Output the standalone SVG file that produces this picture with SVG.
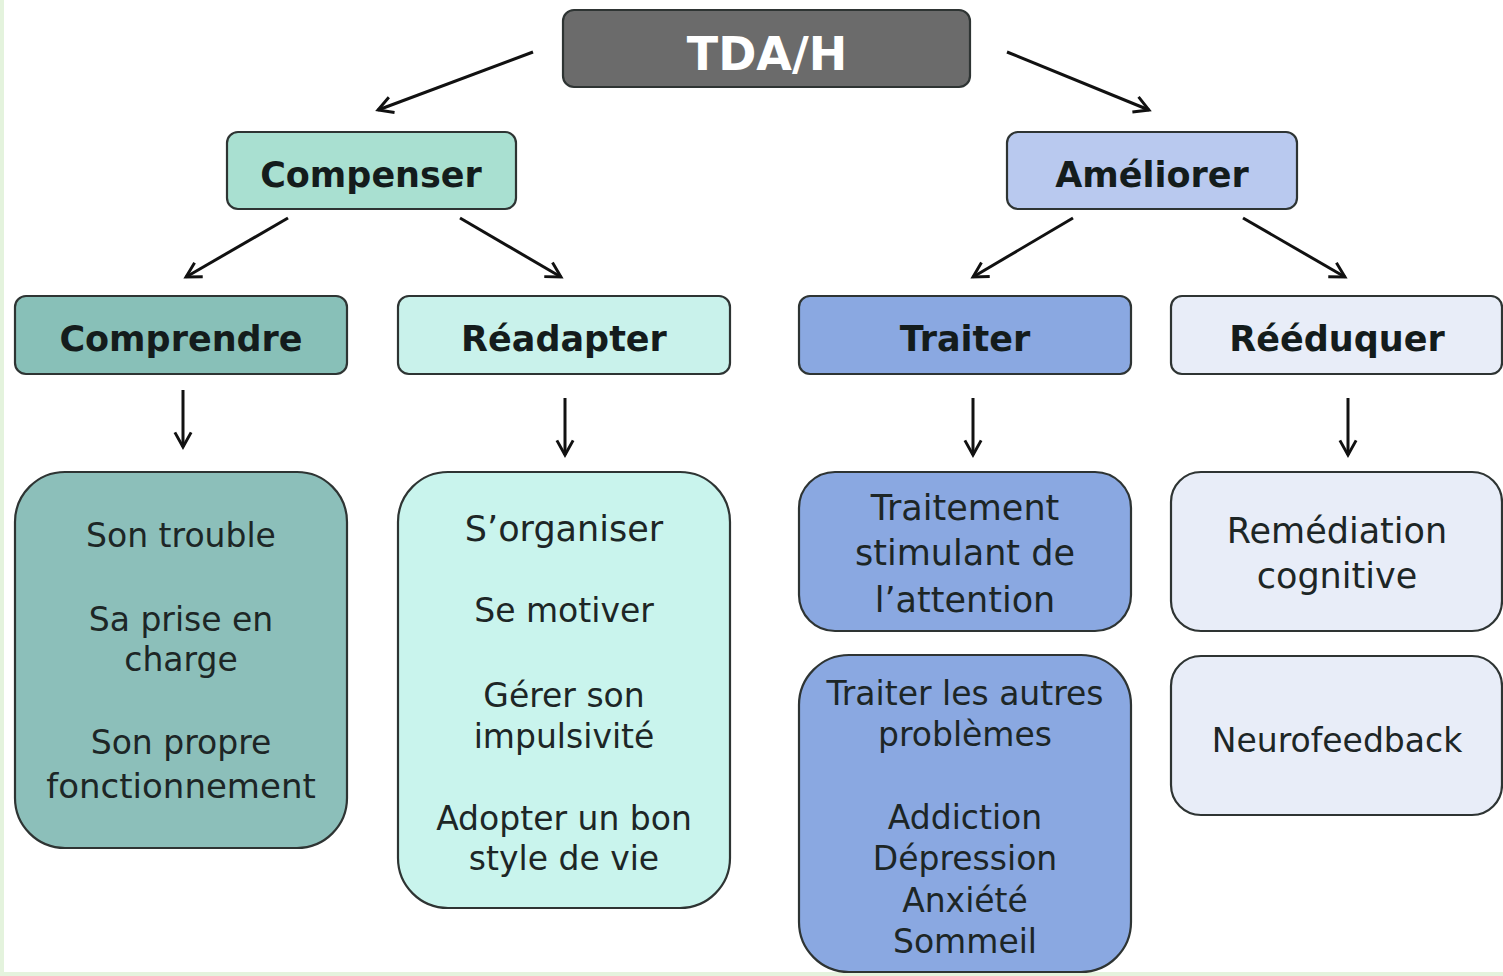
<svg xmlns="http://www.w3.org/2000/svg" width="1503" height="976" viewBox="0 0 1503 976">
<style>
.box{stroke:#2e3433;stroke-width:2.2}
.h{font-family:"DejaVu Sans","Liberation Sans",sans-serif;font-weight:bold;font-size:35px;fill:#141c1c;text-anchor:middle}
.t{font-family:"DejaVu Sans","Liberation Sans",sans-serif;font-size:33px;fill:#1d2626;text-anchor:middle}
.c{stroke:#111;stroke-width:3;fill:none;marker-end:url(#ah)}
</style>
<defs>
<marker id="ah" viewBox="0 0 12 12" refX="10" refY="6" markerWidth="6.5" markerHeight="6.5" orient="auto" markerUnits="strokeWidth">
<path d="M1,1 L10,6 L1,11" fill="none" stroke="#111" stroke-width="1.8"/>
</marker>
</defs>
<rect x="0" y="0" width="1503" height="976" fill="#ffffff"/>
<rect x="0" y="0" width="4" height="976" fill="#e4f3dd"/>
<rect x="0" y="972" width="1503" height="4" fill="#e4f3dd"/>
<g id="connectors">
<line class="c" x1="533" y1="52" x2="378" y2="110"/>
<line class="c" x1="1007" y1="52" x2="1149" y2="110"/>
<line class="c" x1="288" y1="218" x2="186" y2="277"/>
<line class="c" x1="460" y1="218" x2="561" y2="277"/>
<line class="c" x1="1073" y1="218" x2="973" y2="277"/>
<line class="c" x1="1243" y1="218" x2="1345" y2="277"/>
<line class="c" x1="183" y1="390" x2="183" y2="447"/>
<line class="c" x1="565" y1="398" x2="565" y2="455"/>
<line class="c" x1="973" y1="398" x2="973" y2="455"/>
<line class="c" x1="1348" y1="398" x2="1348" y2="455"/>
</g>
<g id="tdah">
<rect class="box" x="563" y="10" width="407" height="77" rx="11" fill="#6b6b6b"/>
<text x="767" y="70" class="h" style="fill:#ffffff;font-size:46px">TDA/H</text>
</g>
<g id="compenser">
<rect class="box" x="227" y="132" width="289" height="77" rx="11" fill="#a9e0d1"/>
<text x="371" y="187" class="h">Compenser</text>
</g>
<g id="ameliorer">
<rect class="box" x="1007" y="132" width="290" height="77" rx="11" fill="#b9c9ef"/>
<text x="1152" y="187" class="h">Améliorer</text>
</g>
<g id="comprendre">
<rect class="box" x="15" y="296" width="332" height="78" rx="11" fill="#88c0b8"/>
<text x="181" y="351" class="h">Comprendre</text>
</g>
<g id="readapter">
<rect class="box" x="398" y="296" width="332" height="78" rx="11" fill="#c9f2eb"/>
<text x="564" y="351" class="h">Réadapter</text>
</g>
<g id="traiter">
<rect class="box" x="799" y="296" width="332" height="78" rx="11" fill="#8aa8e1"/>
<text x="965" y="351" class="h">Traiter</text>
</g>
<g id="reeduquer">
<rect class="box" x="1171" y="296" width="331" height="78" rx="11" fill="#e8edf8"/>
<text x="1337" y="351" class="h">Rééduquer</text>
</g>
<g id="comprendre-details">
<rect class="box" x="15" y="472" width="332" height="376" rx="50" fill="#8cbfba"/>
<text class="t" x="181" y="547">Son trouble</text>
<text class="t" x="181" y="631">Sa prise en</text>
<text class="t" x="181" y="671">charge</text>
<text class="t" x="181" y="754">Son propre</text>
<text class="t" x="181" y="798" style="font-size:34px">fonctionnement</text>
</g>
<g id="readapter-details">
<rect class="box" x="398" y="472" width="332" height="436" rx="50" fill="#c9f4ed"/>
<text class="t" x="564" y="541" style="font-size:35px">S’organiser</text>
<text class="t" x="564" y="622">Se motiver</text>
<text class="t" x="564" y="707">Gérer son</text>
<text class="t" x="564" y="748">impulsivité</text>
<text class="t" x="564" y="830">Adopter un bon</text>
<text class="t" x="564" y="870">style de vie</text>
</g>
<g id="traitement">
<rect class="box" x="799" y="472" width="332" height="159" rx="36" fill="#8aa8e1"/>
<text class="t" x="965" y="520" style="font-size:35px">Traitement</text>
<text class="t" x="965" y="565" style="font-size:35px">stimulant de</text>
<text class="t" x="965" y="612" style="font-size:35px">l’attention</text>
</g>
<g id="autres">
<rect class="box" x="799" y="655" width="332" height="317" rx="50" fill="#8aa8e1"/>
<text class="t" x="965" y="705">Traiter les autres</text>
<text class="t" x="965" y="746">problèmes</text>
<text class="t" x="965" y="829">Addiction</text>
<text class="t" x="965" y="870">Dépression</text>
<text class="t" x="965" y="912">Anxiété</text>
<text class="t" x="965" y="953">Sommeil</text>
</g>
<g id="remediation">
<rect class="box" x="1171" y="472" width="331" height="159" rx="30" fill="#e8edf8"/>
<text class="t" x="1337" y="543" style="font-size:35px">Remédiation</text>
<text class="t" x="1337" y="588" style="font-size:35px">cognitive</text>
</g>
<g id="neurofeedback">
<rect class="box" x="1171" y="656" width="331" height="159" rx="30" fill="#e8edf8"/>
<text class="t" x="1337" y="752">Neurofeedback</text>
</g>
</svg>
